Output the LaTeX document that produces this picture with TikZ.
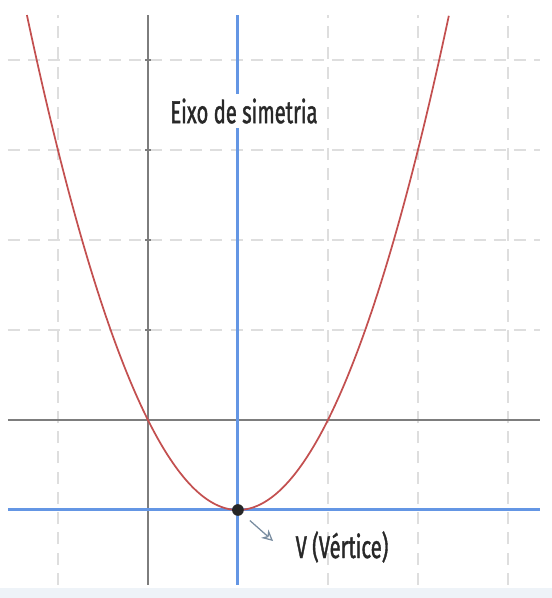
\documentclass[tikz,border=0pt]{standalone}
\usepackage{fontspec}
\setmainfont{Fira Sans}
\newfontfamily\lblfont[FakeStretch=0.64,FakeBold=1.2]{Fira Sans}
\usetikzlibrary{arrows.meta}
\definecolor{gridc}{RGB}{222,222,222}
\definecolor{axisc}{RGB}{125,125,125}
\definecolor{bluec}{RGB}{100,150,228}
\definecolor{redc}{RGB}{195,80,80}
\definecolor{textc}{RGB}{40,40,40}
\definecolor{stripc}{RGB}{238,243,248}
\definecolor{ptrc}{RGB}{120,140,160}
\begin{document}
\begin{tikzpicture}[x=1cm,y=1cm,
  gridline/.style={gridc, line width=0.6pt, dash pattern=on 3.8pt off 2.6pt},
  axisline/.style={axisc, line width=0.6pt},
  symline/.style={bluec, line width=0.95pt},
  curve/.style={redc, line width=0.55pt},
  lbl/.style={font=\lblfont\fontsize{10}{12}\selectfont, text=textc, inner sep=1.5pt},
  dotnode/.style={circle, fill=black!85, inner sep=0pt, minimum size=0.13cm},
  ptr/.style={ptrc, line width=0.4pt, -{Stealth[length=3.5pt,width=3.5pt,open]}, shorten <=3pt}]
\useasboundingbox (-1.644,-1.978) rectangle (4.489,4.667);
\fill[stripc] (-1.644,-1.978) rectangle (4.489,-1.867);
% grid
\foreach \gx in {-1,2,3,4} \draw[gridline] (\gx,-1.833) -- (\gx,4.5);
\foreach \gy in {1,2,3,4} \draw[gridline] (-1.556,\gy) -- (4.356,\gy);
% axes
\draw[axisline] (-1.556,0) -- (4.356,0);
\draw[axisline] (0,-1.833) -- (0,4.5);
\foreach \gy in {1,2,3,4} \draw[axisline] (-0.03,\gy) -- (0.03,\gy);
% symmetry lines
\draw[symline] (1,-1.833) -- (1,4.5);
\draw[symline] (-1.556,-1) -- (4.356,-1);
% parabola
\draw[curve, domain=-1.345:3.345, samples=120, smooth] plot (\x,{(\x-1)^2-1});
% labels
\node[lbl, fill=white] (eixo) at (1.067,3.433) {Eixo de simetria};
\node[dotnode] (V) at (1,-1) {};
\node[lbl] (vlbl) at (2.156,-1.411) {V (Vértice)};
\coordinate (vtip) at (1.39,-1.345);
\draw[ptr] (V) -- (vtip);
\end{tikzpicture}
\end{document}
